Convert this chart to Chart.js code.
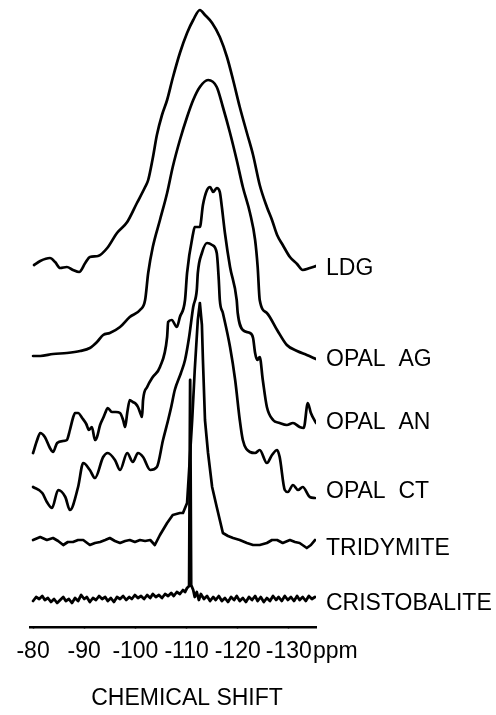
<!DOCTYPE html>
<html>
<head>
<meta charset="utf-8">
<title>29Si NMR spectra</title>
<script src="https://cdn.jsdelivr.net/npm/chart.js@4.4.0/dist/chart.umd.min.js"></script>
<style>
  html, body { margin: 0; padding: 0; background: #fff; }
  canvas { display: block; }
</style>
</head>
<body>
<canvas id="nmr" width="496" height="715"></canvas>
<script>
// Spectrum names, top to bottom
const sampleNames = ['LDG', 'OPAL  AG', 'OPAL  AN', 'OPAL  CT', 'TRIDYMITE', 'CRISTOBALITE'];

// Vertical offset of each trace in the stack (a.u.)
const stackOffsets = [360, 270, 204, 129, 85, 27];

// Axis ticks (ppm)
const tickValues = [-80, -90, -100, -110, -120, -130];

// Chemical shift (ppm) and intensity (a.u., relative to the trace baseline)
const ldgShift = [-80.2, -81.4, -83.3, -84.3, -85.3, -86.6, -87.8, -89.0, -90.2, -91.1, -92.7, -94.5, -96.4, -98.4, -100.3, -101.9, -102.5, -103.4, -104.2, -105.2, -106.2, -107.3, -108.7, -110.1, -111.3, -112.6, -113.6, -115.0, -116.5, -117.9, -119.1, -120.4, -121.8, -123.0, -124.3, -125.7, -126.7, -127.7, -128.8, -130.2, -131.6, -132.7, -134.1, -135.3];
const ldgSignal = [2, 6, 9, 5, -1, 0, -3, -5, 4, 10, 11, 19, 34, 45, 64, 80, 87, 109, 132, 152, 167, 189, 214, 234, 247, 257, 252, 244, 230, 210, 187, 160, 134, 112, 82, 60, 47, 32, 22, 10, 3, -3, -1, 1];

const agShift = [-80.0, -81.4, -83.9, -86.6, -89.2, -91.1, -92.5, -93.7, -95.0, -97.0, -98.9, -100.9, -101.9, -102.5, -103.4, -104.8, -106.2, -107.3, -108.7, -110.1, -111.3, -112.6, -114.2, -115.9, -117.1, -118.5, -119.8, -121.0, -122.4, -123.4, -123.9, -124.3, -125.7, -127.7, -129.6, -131.6, -133.5, -135.3];
const agSignal = [1, 1, 3, 4, 6, 9, 15, 22, 24, 30, 40, 47, 57, 84, 110, 137, 164, 190, 217, 240, 257, 270, 277, 270, 250, 224, 197, 170, 144, 117, 90, 57, 44, 27, 12, 6, 2, -2];

const anShift = [-80.0, -80.8, -81.4, -82.3, -83.3, -83.9, -84.7, -85.9, -86.6, -87.2, -87.8, -88.2, -88.8, -89.6, -90.4, -90.9, -91.5, -92.1, -92.5, -93.1, -93.7, -94.1, -94.6, -95.4, -96.2, -97.0, -97.6, -98.0, -98.4, -98.9, -99.5, -100.1, -100.5, -101.1, -101.3, -101.5, -102.3, -103.4, -104.8, -106.2, -106.4, -107.1, -108.1, -108.7, -109.7, -110.1, -111.3, -111.6, -112.6, -113.2, -114.0, -114.6, -115.2, -115.9, -116.5, -116.9, -117.5, -118.5, -119.8, -120.0, -121.0, -122.4, -123.0, -123.4, -123.8, -124.3, -124.9, -125.7, -126.9, -128.2, -129.6, -130.8, -132.1, -132.9, -133.7, -134.3, -135.3];
const anSignal = [-30, -17, -10, -14, -25, -29, -20, -18, -17, -7, 5, 10, 10, 5, -1, -7, -4, -17, -14, -2, 5, 10, 15, 11, 11, 10, 3, -4, 10, 23, 21, 19, 16, 8, 6, 23, 36, 46, 56, 86, 101, 103, 96, 106, 123, 150, 190, 196, 196, 218, 233, 236, 231, 235, 231, 216, 190, 156, 123, 110, 93, 90, 85, 70, 63, 66, 43, 16, 3, 0, -2, 0, -4, -5, 20, 10, 0];

const ctShift = [-80.0, -81.8, -82.7, -83.7, -84.9, -86.3, -87.2, -88.8, -89.8, -91.1, -92.1, -93.7, -94.6, -96.0, -97.0, -98.4, -99.5, -100.5, -101.5, -102.9, -104.2, -105.4, -106.4, -107.0, -107.7, -108.9, -109.7, -110.5, -111.3, -112.0, -112.2, -113.0, -114.0, -115.0, -115.9, -116.3, -116.5, -117.1, -118.5, -119.5, -120.4, -121.0, -122.4, -123.4, -124.3, -125.7, -126.7, -127.7, -128.2, -129.2, -129.8, -130.8, -131.8, -132.7, -134.1, -135.1];
const ctSignal = [11, 5, -4, -10, 8, 1, -12, 11, 35, 28, 20, 41, 45, 38, 28, 45, 36, 45, 41, 28, 31, 58, 78, 91, 108, 125, 138, 161, 191, 208, 225, 245, 255, 253, 245, 218, 198, 185, 151, 118, 78, 58, 46, 45, 48, 35, 43, 48, 41, 8, 6, 13, 8, 11, 1, 0];

const triShift = [-80.0, -81.4, -82.7, -83.9, -84.9, -85.9, -86.8, -87.8, -88.8, -89.8, -91.1, -92.1, -93.1, -94.1, -95.0, -96.0, -97.0, -98.0, -98.9, -99.9, -100.9, -101.9, -102.9, -103.8, -104.8, -106.2, -107.3, -108.7, -109.3, -110.1, -110.5, -111.1, -111.6, -112.2, -112.6, -113.0, -113.2, -113.6, -114.2, -115.0, -115.9, -116.5, -117.1, -118.1, -119.1, -120.4, -121.8, -123.0, -124.3, -125.7, -126.7, -127.7, -128.8, -130.2, -131.2, -132.1, -133.5, -134.3, -135.1];
const triSignal = [2, 5, 2, 4, 1, -3, 0, 0, 2, 2, -3, -1, 0, 2, 4, 1, -1, 1, 2, 0, 2, 1, 2, -3, 7, 19, 27, 29, 29, 39, 72, 122, 172, 222, 239, 217, 182, 122, 89, 55, 35, 22, 9, 6, 4, 2, -1, -3, -3, -1, 2, 2, -1, 2, 0, -1, -6, -3, 2];

const crisShift = [-80.0, -80.6, -81.2, -81.8, -82.3, -82.9, -83.5, -84.1, -84.7, -85.3, -85.9, -86.4, -87.0, -87.6, -88.2, -88.8, -89.4, -90.0, -90.5, -91.1, -91.7, -92.3, -92.9, -93.5, -94.1, -94.6, -95.2, -95.8, -96.4, -97.0, -97.6, -98.2, -98.8, -99.3, -99.9, -100.5, -101.1, -101.7, -102.3, -102.9, -103.4, -104.0, -104.6, -105.2, -105.8, -106.4, -107.0, -107.5, -108.1, -108.7, -109.3, -109.7, -110.1, -110.5, -110.7, -110.9, -111.3, -111.6, -112.0, -112.4, -112.8, -113.4, -114.0, -114.6, -115.2, -115.7, -116.3, -116.9, -117.5, -118.1, -118.7, -119.3, -119.8, -120.4, -121.0, -121.6, -122.2, -122.8, -123.4, -123.9, -124.5, -125.1, -125.7, -126.3, -126.9, -127.5, -128.0, -128.6, -129.2, -129.8, -130.4, -131.0, -131.6, -132.1, -132.7, -133.3, -133.9, -134.5, -135.1];
const crisSignal = [-1, 3, 1, 4, 0, 2, -2, 1, -3, 0, 3, -1, 1, -3, 2, -1, 5, 1, 3, -2, 2, 0, 4, 1, 3, -1, 2, -2, 3, 1, 4, 0, 3, 1, 5, 2, 4, 1, 5, 2, 6, 3, 5, 2, 6, 4, 7, 4, 8, 6, 10, 8, 12, 14, 220, 15, 10, 3, 8, 0, 6, 1, 4, -1, 3, 0, 4, -1, 2, -2, 3, 0, 4, -1, 2, -2, 3, 0, 4, -1, 3, -2, 2, -1, 4, 0, 3, -1, 4, 0, 3, -1, 4, 0, 3, -1, 4, 1, 3];

const shifts = [ldgShift, agShift, anShift, ctShift, triShift, crisShift];
const signals = [ldgSignal, agSignal, anSignal, ctSignal, triSignal, crisSignal];

const FONT = '"Liberation Sans", Arial, sans-serif';

// Build one line dataset per sample, lifted by its stack offset
const datasets = sampleNames.map((name, i) => ({
  label: name,
  data: shifts[i].map((x, j) => ({ x: x, y: stackOffsets[i] + signals[i][j] })),
  borderColor: '#000',
  borderWidth: i === 5 ? 2.8 : 2.7,
  pointRadius: 0,
  fill: false,
  cubicInterpolationMode: i < 4 ? 'monotone' : 'default',
  tension: 0,
  borderJoinStyle: 'round',
  borderCapStyle: 'round'
}));

// Sample names next to each trace, "ppm" unit and the axis title
const textPlugin = {
  id: 'nmrText',
  afterDraw(chart) {
    const ctx = chart.ctx;
    const xs = chart.scales.x;
    const nameY = [269, 360, 423, 492, 549, 604];
    ctx.save();
    ctx.fillStyle = '#000';
    ctx.font = '23px ' + FONT;
    ctx.textBaseline = 'middle';
    ctx.textAlign = 'left';
    sampleNames.forEach((name, i) => ctx.fillText(name, 326, nameY[i]));

    const last = tickValues[tickValues.length - 1];
    const lastX = xs.getPixelForValue(last) + ctx.measureText(String(last)).width / 2;
    ctx.fillText('ppm', lastX + 1, 652);

    ctx.textAlign = 'center';
    ctx.fillText('CHEMICAL SHIFT', 187, 699);
    ctx.restore();
  }
};

new Chart(document.getElementById('nmr'), {
  type: 'line',
  data: { datasets: datasets },
  plugins: [textPlugin],
  options: {
    responsive: false,
    animation: false,
    events: [],
    layout: { padding: { left: 30, right: 180, top: 0, bottom: 0 } },
    plugins: { legend: { display: false }, tooltip: { enabled: false } },
    scales: {
      x: {
        type: 'linear',
        reverse: true,
        min: -135.3,
        max: -79.4,
        afterBuildTicks: (scale) => { scale.ticks = tickValues.map(v => ({ value: v })); },
        afterFit: (scale) => { scale.height = 88; },
        border: { display: true, color: '#000', width: 2.5 },
        grid: { drawOnChartArea: false, drawTicks: true, tickLength: 2, tickWidth: 1.5, tickColor: '#000' },
        ticks: {
          color: '#000',
          padding: 9,
          maxRotation: 0,
          autoSkip: false,
          font: { family: FONT, size: 23 },
          callback: (v) => String(v)
        }
      },
      y: {
        display: false,
        min: 0,
        max: 627
      }
    }
  }
});
</script>
</body>
</html>
